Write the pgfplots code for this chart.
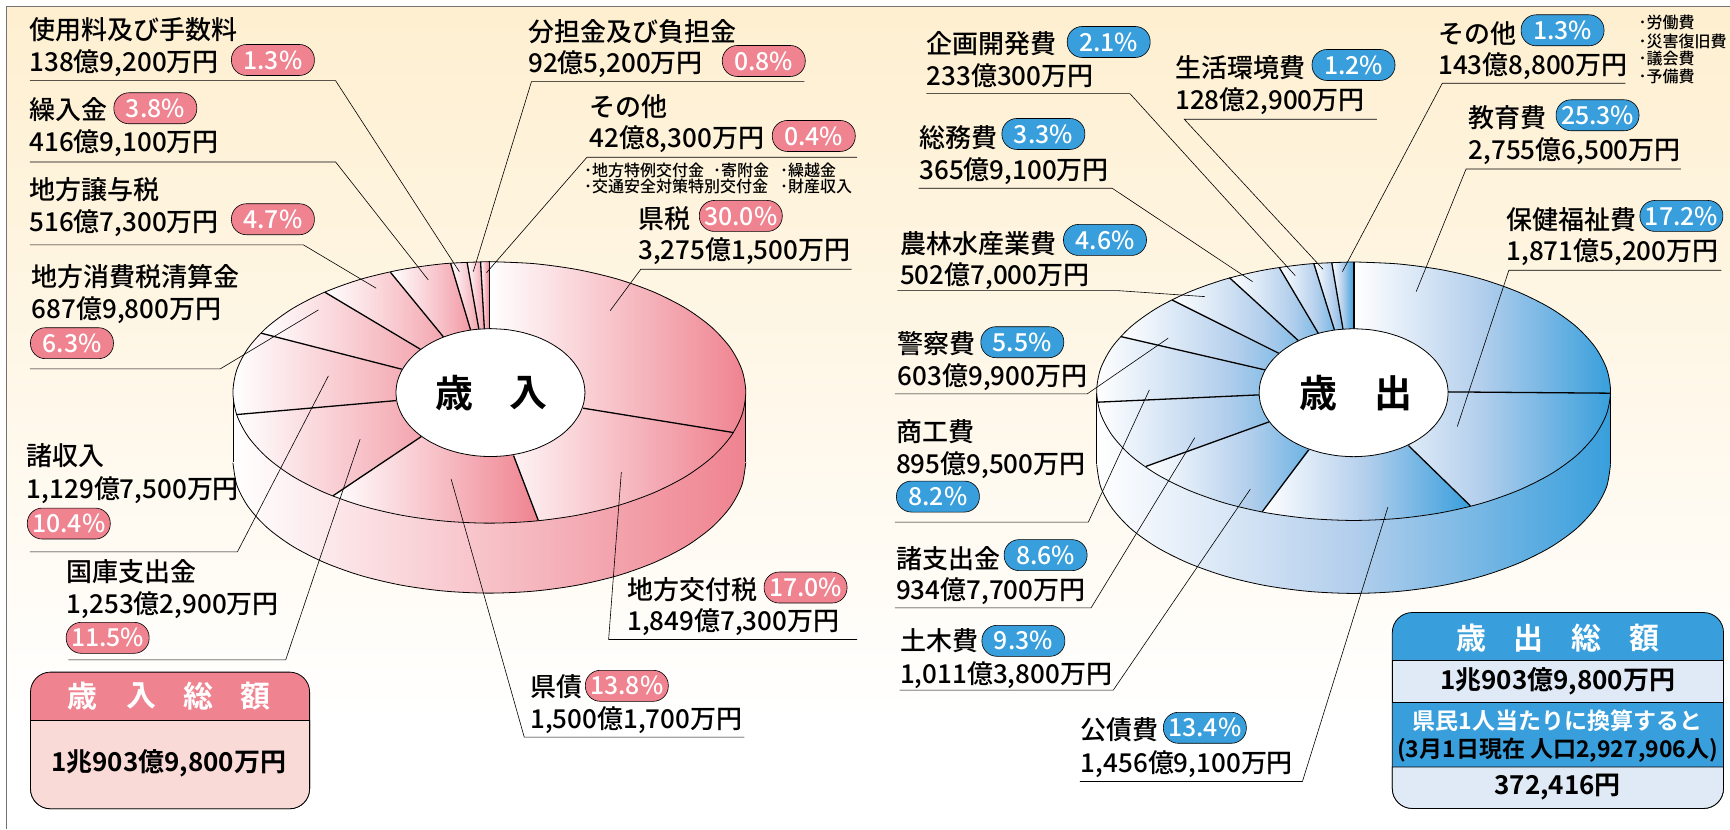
\documentclass[border=0pt]{standalone}
\usepackage{pgfplots}
\pgfplotsset{compat=1.18}
\usepackage{fontspec}
\setmainfont{Noto Sans CJK JP}[UprightFont=* Medium,BoldFont=* Bold]
\definecolor{rd}{HTML}{EF8390}
\definecolor{bl}{HTML}{389FDC}
\definecolor{blm}{HTML}{B2CEEC}
\definecolor{rdl}{HTML}{F9DAD6}
\definecolor{bll}{HTML}{E0E9F6}
\definecolor{cream}{HTML}{FEEFD0}
\tikzset{rg/.style={left color=white,right color=rd},bg/.style={left color=white,right color=bl,middle color=blm}}
\newcommand{\fs}{\fontsize{13}{15}\selectfont}
\newcommand{\fb}{\fontsize{12.4}{15}\selectfont}
\newcommand{\ft}{\fontsize{8}{9}\selectfont}
\newcommand{\lab}[3]{\node[anchor=base west,inner sep=0pt,font=\fs] at (axis cs:#1,#2) {#3};}
\newcommand{\note}[3]{\node[anchor=base west,inner sep=0pt,font=\ft] at (axis cs:#1,#2) {#3};}
\newcommand{\badge}[4]{\node[rounded corners=7.5pt,draw=black,line width=.3pt,fill=#4,text=white,minimum width=41.5pt,minimum height=15.5pt,inner sep=0pt,font=\fb] at (axis cs:#1,#2) {#3};}
\newcommand{\seg}[4]{\addplot[black,line width=.65pt] coordinates {(#1,#2)(#3,#4)};}
\newcommand{\lead}[6]{\addplot[black,line width=.3pt] coordinates {(#1,#2)(#3,#4)(#5,#6)};}
\begin{document}
\begin{tikzpicture}
\begin{axis}[scale only axis,width=865pt,height=414.5pt,xmin=0,xmax=1730,ymin=0,ymax=829,y dir=reverse,hide axis,clip=false]
% page and background
\addplot[fill=white,draw=none] coordinates {(0,0)(1730,0)(1730,829)(0,829)} --cycle;
\addplot[draw=none,top color=cream,bottom color=white] coordinates {(7,7)(1730,7)(1730,720)(7,720)} --cycle;
\addplot[black!55,line width=.5pt] coordinates {(7,829)(7,7)(1730,7)};
%%% REVENUE PIE
\addplot[smooth,draw=black,line width=.4pt,rg] coordinates {(233,462.5)(236.9,485.2)(248.5,507.2)(267.4,527.9)(293,546.6)(324.6,562.7)(361.2,575.8)(401.8,585.4)(445,591.3)(489.5,593.3)(534,591.3)(577.2,585.4)(617.8,575.8)(654.4,562.7)(686,546.6)(711.6,527.9)(730.5,507.2)(742.1,485.2)(746,462.5)};
\addplot[draw=none,rg] coordinates {(233,392.5)(746,392.5)(746,462.5)(233,462.5)} --cycle;
\addplot[black,line width=.4pt] coordinates {(233,392.5)(233,462.5)};
\addplot[black,line width=.4pt] coordinates {(746,392.5)(746,462.5)};
% top face underlay
\addplot[smooth,draw=none,rg] coordinates {(489.5,261.7)(534,263.7)(577.2,269.6)(617.8,279.2)(654.4,292.3)(686,308.4)(711.6,327.1)(730.5,347.8)(742.1,369.8)(746,392.5)(742.1,415.2)(730.5,437.2)(711.6,457.9)(686,476.6)(654.4,492.7)(617.8,505.8)(577.2,515.4)(534,521.3)(489.5,523.3)(445,521.3)(401.8,515.4)(361.2,505.8)(324.6,492.7)(293,476.6)(267.4,457.9)(248.5,437.2)(236.9,415.2)(233,392.5)(236.9,369.8)(248.5,347.8)(267.4,327.1)(293,308.4)(324.6,292.3)(361.2,279.2)(401.8,269.6)(445,263.7)(489.5,261.7)};
% slices: wedges from the pie centre
\addplot[draw=none,rg] coordinates {(489.5,392.5)(489.5,261.7)(534,263.7)(577.2,269.6)(617.8,279.2)(654.4,292.3)(686,308.4)(711.6,327.1)(730.5,347.8)(742.1,369.8)(746,392.5)(742.1,415.2)(733.8,432.7)} --cycle;
\addplot[draw=none,rg] coordinates {(489.5,392.5)(733.8,432.7)(711.6,457.9)(686,476.6)(654.4,492.7)(617.8,505.8)(577.2,515.4)(538.5,520.7)} --cycle;
\addplot[draw=none,rg] coordinates {(489.5,392.5)(538.5,520.7)(534,521.3)(489.5,523.3)(445,521.3)(401.8,515.4)(361.2,505.8)(333,496)} --cycle;
\addplot[draw=none,rg] coordinates {(489.5,392.5)(333,496)(324.6,492.7)(293,476.6)(267.4,457.9)(248.5,437.2)(236.5,414.7)} --cycle;
\addplot[draw=none,rg] coordinates {(489.5,392.5)(236.5,414.7)(233,392.5)(236.9,369.8)(248.5,347.8)(261.3,333.3)} --cycle;
\addplot[draw=none,rg] coordinates {(489.5,392.5)(261.3,333.3)(267.4,327.1)(293,308.4)(325,292.3)} --cycle;
\addplot[draw=none,rg] coordinates {(489.5,392.5)(325,292.3)(361.2,279.2)(390.5,272.3)} --cycle;
\addplot[draw=none,rg] coordinates {(489.5,392.5)(390.5,272.3)(401.8,269.6)(445,263.7)(450.7,263.2)} --cycle;
\addplot[draw=none,rg] coordinates {(489.5,392.5)(450.7,263.2)(467.2,262.2)} --cycle;
\addplot[draw=none,rg] coordinates {(489.5,392.5)(467.2,262.2)(480.7,261.8)} --cycle;
\addplot[draw=none,rg] coordinates {(489.5,392.5)(480.7,261.8)(489.5,261.7)} --cycle;
\seg{489.3}{328.7}{489.3}{261.7}
\seg{583.3}{408.3}{733.8}{432.7}
\seg{513.7}{455.7}{538.5}{520.7}
\seg{421.4}{436.7}{333}{496}
\seg{396.3}{400.7}{236.5}{414.7}
\seg{401.8}{369.3}{261.3}{333.3}
\seg{420.4}{349.3}{325}{292.3}
\seg{443.8}{337.3}{390.5}{272.3}
\seg{470.7}{330}{450.7}{263.2}
\seg{479}{329.3}{467.2}{262.2}
\seg{484.5}{329}{480.7}{261.8}
% rim and hole
\addplot[smooth,black,line width=.4pt] coordinates {(489.5,261.7)(534,263.7)(577.2,269.6)(617.8,279.2)(654.4,292.3)(686,308.4)(711.6,327.1)(730.5,347.8)(742.1,369.8)(746,392.5)(742.1,415.2)(730.5,437.2)(711.6,457.9)(686,476.6)(654.4,492.7)(617.8,505.8)(577.2,515.4)(534,521.3)(489.5,523.3)(445,521.3)(401.8,515.4)(361.2,505.8)(324.6,492.7)(293,476.6)(267.4,457.9)(248.5,437.2)(236.9,415.2)(233,392.5)(236.9,369.8)(248.5,347.8)(267.4,327.1)(293,308.4)(324.6,292.3)(361.2,279.2)(401.8,269.6)(445,263.7)(489.5,261.7)};
\addplot[smooth,draw=black,fill=white,line width=.4pt] coordinates {(490.6,328.7)(507,329.7)(522.9,332.6)(537.9,337.3)(551.3,343.7)(563,351.6)(572.4,360.7)(579.4,370.8)(583.7,381.6)(585.1,392.7)(583.7,403.8)(579.4,414.6)(572.4,424.7)(563,433.8)(551.3,441.7)(537.9,448.1)(522.9,452.8)(507,455.7)(490.6,456.7)(474.2,455.7)(458.3,452.8)(443.3,448.1)(429.9,441.7)(418.2,433.8)(408.8,424.7)(401.8,414.6)(397.5,403.8)(396.1,392.7)(397.5,381.6)(401.8,370.8)(408.8,360.7)(418.2,351.6)(429.9,343.7)(443.3,337.3)(458.3,332.6)(474.2,329.7)(490.6,328.7)};
%%% EXPENDITURE PIE
\addplot[smooth,draw=black,line width=.4pt,bg] coordinates {(1097,464.3)(1100.9,486.8)(1112.5,508.5)(1131.4,529)(1157.1,547.4)(1188.8,563.3)(1225.5,576.3)(1266.1,585.8)(1309.4,591.6)(1354,593.6)(1398.6,591.6)(1441.9,585.8)(1482.5,576.3)(1519.2,563.3)(1550.9,547.4)(1576.6,529)(1595.5,508.5)(1607.1,486.8)(1611,464.3)};
\addplot[draw=none,bg] coordinates {(1097,391.3)(1611,391.3)(1611,464.3)(1097,464.3)} --cycle;
\addplot[black,line width=.4pt] coordinates {(1097,391.3)(1097,464.3)};
\addplot[black,line width=.4pt] coordinates {(1611,391.3)(1611,464.3)};
\addplot[smooth,draw=none,bg] coordinates {(1354,262)(1398.6,264)(1441.9,269.8)(1482.5,279.3)(1519.2,292.3)(1550.9,308.2)(1576.6,326.6)(1595.5,347.1)(1607.1,368.8)(1611,391.3)(1607.1,413.8)(1595.5,435.5)(1576.6,456)(1550.9,474.4)(1519.2,490.3)(1482.5,503.3)(1441.9,512.8)(1398.6,518.6)(1354,520.6)(1309.4,518.6)(1266.1,512.8)(1225.5,503.3)(1188.8,490.3)(1157.1,474.4)(1131.4,456)(1112.5,435.5)(1100.9,413.8)(1097,391.3)(1100.9,368.8)(1112.5,347.1)(1131.4,326.6)(1157.1,308.2)(1188.8,292.3)(1225.5,279.3)(1266.1,269.8)(1309.4,264)(1354,262)};
\addplot[draw=none,bg] coordinates {(1354.5,392.5)(1354.5,262)(1398.6,264)(1441.9,269.8)(1482.5,279.3)(1519.2,292.3)(1550.9,308.2)(1576.6,326.6)(1595.5,347.1)(1607.1,368.8)(1611,391.3)(1611,393.3)} --cycle;
\addplot[draw=none,bg] coordinates {(1354.5,392.5)(1611,393.3)(1607.1,413.8)(1595.5,435.5)(1576.6,456)(1550.9,474.4)(1519.2,490.3)(1482.5,503.3)(1470.8,506)} --cycle;
\addplot[draw=none,bg] coordinates {(1354.5,392.5)(1470.8,506)(1441.9,512.8)(1398.6,518.6)(1354,520.6)(1309.4,518.6)(1266.1,512.8)(1262.5,512)} --cycle;
\addplot[draw=none,bg] coordinates {(1354.5,392.5)(1262.5,512)(1225.5,503.3)(1188.8,490.3)(1157.1,474.4)(1146.1,466.6)} --cycle;
\addplot[draw=none,bg] coordinates {(1354.5,392.5)(1146.1,466.6)(1131.4,456)(1112.5,435.5)(1100.9,413.8)(1097.9,402.3)} --cycle;
\addplot[draw=none,bg] coordinates {(1354.5,392.5)(1097.9,402.3)(1097,391.3)(1100.9,368.8)(1112.5,347.1)(1121.3,336.7)} --cycle;
\addplot[draw=none,bg] coordinates {(1354.5,392.5)(1121.3,336.7)(1131.4,326.6)(1157.1,308.2)(1172.3,300)} --cycle;
\addplot[draw=none,bg] coordinates {(1354.5,392.5)(1172.3,300)(1188.8,292.3)(1225.5,279.3)(1229.8,277.8)} --cycle;
\addplot[draw=none,bg] coordinates {(1354.5,392.5)(1229.8,277.8)(1266.1,269.8)(1279.7,267.7)} --cycle;
\addplot[draw=none,bg] coordinates {(1354.5,392.5)(1279.7,267.7)(1309.4,264)(1314.2,263.6)} --cycle;
\addplot[draw=none,bg] coordinates {(1354.5,392.5)(1314.2,263.6)(1332.1,262.5)} --cycle;
\addplot[draw=none,bg] coordinates {(1354.5,392.5)(1332.1,262.5)(1354.5,262)} --cycle;
\seg{1354.5}{328.8}{1354.5}{262}
\seg{1448.5}{392}{1611}{393.3}
\seg{1408.9}{445.7}{1470.8}{506}
\seg{1309}{450}{1262.5}{512}
\seg{1269.4}{422}{1146.1}{466.6}
\seg{1259.4}{395}{1097.9}{402.3}
\seg{1265.3}{370}{1121.3}{336.7}
\seg{1279}{353.3}{1172.3}{300}
\seg{1298.7}{340.7}{1229.8}{277.8}
\seg{1318.6}{333.3}{1279.7}{267.7}
\seg{1334.8}{330}{1314.2}{263.6}
\seg{1343.4}{329.3}{1332.1}{262.5}
\addplot[smooth,black,line width=.4pt] coordinates {(1354,262)(1398.6,264)(1441.9,269.8)(1482.5,279.3)(1519.2,292.3)(1550.9,308.2)(1576.6,326.6)(1595.5,347.1)(1607.1,368.8)(1611,391.3)(1607.1,413.8)(1595.5,435.5)(1576.6,456)(1550.9,474.4)(1519.2,490.3)(1482.5,503.3)(1441.9,512.8)(1398.6,518.6)(1354,520.6)(1309.4,518.6)(1266.1,512.8)(1225.5,503.3)(1188.8,490.3)(1157.1,474.4)(1131.4,456)(1112.5,435.5)(1100.9,413.8)(1097,391.3)(1100.9,368.8)(1112.5,347.1)(1131.4,326.6)(1157.1,308.2)(1188.8,292.3)(1225.5,279.3)(1266.1,269.8)(1309.4,264)(1354,262)};
\addplot[smooth,draw=black,fill=white,line width=.4pt] coordinates {(1354,328.8)(1370.4,329.8)(1386.3,332.7)(1401.3,337.4)(1414.7,343.8)(1426.4,351.7)(1435.8,360.8)(1442.8,370.9)(1447.1,381.7)(1448.5,392.8)(1447.1,403.9)(1442.8,414.7)(1435.8,424.8)(1426.4,433.9)(1414.7,441.8)(1401.3,448.2)(1386.3,452.9)(1370.4,455.8)(1354,456.8)(1337.6,455.8)(1321.7,452.9)(1306.7,448.2)(1293.3,441.8)(1281.6,433.9)(1272.2,424.8)(1265.2,414.7)(1260.9,403.9)(1259.5,392.8)(1260.9,381.7)(1265.2,370.9)(1272.2,360.8)(1281.6,351.7)(1293.3,343.8)(1306.7,337.4)(1321.7,332.7)(1337.6,329.8)(1354,328.8)};
%%% LEADERS, revenue
\lead{30}{80.7}{335.7}{80.7}{459.5}{271.7}
\lead{804.7}{81.7}{531.6}{81.7}{473.4}{271.7}
\lead{857.4}{157.3}{587.1}{157.3}{486.7}{272.7}
\lead{30}{162}{335.7}{162}{428.4}{280}
\lead{30}{245}{303.6}{245}{376.3}{288.3}
\lead{30}{369}{220.3}{369}{318.5}{310}
\lead{30}{552}{237.5}{552}{328.5}{376}
\lead{68.3}{660}{285.8}{660}{360.2}{439.3}
\lead{744.7}{737.3}{524.4}{737.3}{451.2}{479}
\lead{857.4}{639.7}{608.8}{639.7}{621.5}{472.3}
\lead{851.8}{269.3}{641}{269.3}{610.4}{310.7}
%%% LEADERS, expenditure
\lead{926.6}{93.7}{1130.3}{93.7}{1295.6}{275.7}
\lead{1377.2}{119.3}{1184.6}{119.3}{1323.4}{269.3}
\lead{1625.8}{83.3}{1442.7}{83.3}{1342.8}{271.7}
\lead{1681.3}{169}{1466.5}{169}{1416.6}{291.7}
\lead{1721.8}{270.3}{1509.3}{270.3}{1457.7}{426.7}
\lead{918.8}{188.3}{1112.5}{188.3}{1252.9}{281.7}
\lead{897.7}{290.7}{1118}{290.7}{1205.2}{296.7}
\lead{895}{394}{1087.5}{394}{1168.5}{338.3}
\lead{895}{522.3}{1088.6}{522.3}{1149.7}{390}
\lead{895}{608}{1091.4}{608}{1195.2}{437.7}
\lead{900}{690.3}{1113.6}{690.3}{1250.7}{489.3}
\lead{1080.3}{781.7}{1302.8}{781.7}{1388.3}{507.3}
%%% LABELS, revenue
\lab{29}{40}{使用料及び手数料}\lab{29}{71.7}{138億9,200万円}\badge{273}{60}{1.3\%}{rd}
\lab{528}{41.7}{分担金及び負担金}\lab{528}{73}{92億5,200万円}\badge{764}{61}{0.8\%}{rd}
\lab{589.3}{116.7}{その他}\lab{589.3}{148}{42億8,300万円}\badge{814}{136}{0.4\%}{rd}
\note{584}{176.7}{･地方特例交付金}\note{713}{176.7}{･寄附金}\note{780}{176.7}{･繰越金}
\note{584}{193}{･交通安全対策特別交付金}\note{780}{193}{･財産収入}
\lab{638}{228.3}{県税}\lab{638}{260}{3,275億1,500万円}\badge{741}{216}{30.0\%}{rd}
\lab{29}{119.3}{繰入金}\lab{29}{151.7}{416億9,100万円}\badge{155.4}{108.3}{3.8\%}{rd}
\lab{29}{200}{地方譲与税}\lab{29}{231.7}{516億7,300万円}\badge{273}{219.3}{4.7\%}{rd}
\lab{31.6}{286.7}{地方消費税清算金}\lab{31.6}{318.3}{687億9,800万円}\badge{72}{343.3}{6.3\%}{rd}
\lab{26.6}{466}{諸収入}\lab{26.6}{498.3}{1,129億7,500万円}\badge{68.8}{523.7}{10.4\%}{rd}
\lab{66.6}{581.7}{国庫支出金}\lab{66.6}{613.3}{1,253億2,900万円}\badge{107.7}{638}{11.5\%}{rd}
\lab{530}{696.7}{県債}\lab{530}{728.3}{1,500億1,700万円}\badge{627}{686}{13.8\%}{rd}
\lab{627}{599.3}{地方交付税}\lab{627}{631}{1,849億7,300万円}\badge{805.8}{587.7}{17.0\%}{rd}
%%% LABELS, expenditure
\lab{926.6}{53.3}{企画開発費}\lab{926.6}{86}{233億300万円}\badge{1109}{42}{2.1\%}{bl}
\lab{1175.2}{77.7}{生活環境費}\lab{1175.2}{109.3}{128億2,900万円}\badge{1353.9}{65}{1.2\%}{bl}
\lab{1438.2}{43.3}{その他}\lab{1438.2}{75}{143億8,800万円}\badge{1563}{30.3}{1.3\%}{bl}
\note{1638.6}{29}{･労働費}\note{1638.6}{47.7}{･災害復旧費}\note{1638.6}{65}{･議会費}\note{1638.6}{82.7}{･予備費}
\lab{1468.8}{127.7}{教育費}\lab{1468.8}{159.3}{2,755億6,500万円}\badge{1598}{115.3}{25.3\%}{bl}
\lab{1506.5}{229.3}{保健福祉費}\lab{1506.5}{261}{1,871億5,200万円}\badge{1681.9}{216}{17.2\%}{bl}
\lab{919.4}{147.3}{総務費}\lab{919.4}{179.3}{365億9,100万円}\badge{1043.7}{134}{3.3\%}{bl}
\lab{900}{253.3}{農林水産業費}\lab{900}{284.3}{502億7,000万円}\badge{1105.3}{240}{4.6\%}{bl}
\lab{897.7}{353.3}{警察費}\lab{897.7}{385.7}{603億9,900万円}\badge{1022.6}{342.3}{5.5\%}{bl}
\lab{896}{441.7}{商工費}\lab{896}{473.3}{895億9,500万円}\badge{938.2}{496.7}{8.2\%}{bl}
\lab{896}{568.3}{諸支出金}\lab{896}{600}{934億7,700万円}\badge{1045.9}{555.3}{8.6\%}{bl}
\lab{900}{651}{土木費}\lab{900}{683.3}{1,011億3,800万円}\badge{1023.7}{641}{9.3\%}{bl}
\lab{1080.9}{740}{公債費}\lab{1080.9}{772.3}{1,456億9,100万円}\badge{1205.2}{728}{13.4\%}{bl}
%%% PIE CENTRES
\node[font=\fontsize{19}{20}\selectfont\bfseries] at (axis cs:454.2,393.3) {歳};
\node[font=\fontsize{19}{20}\selectfont\bfseries] at (axis cs:528.9,393.3) {入};
\node[font=\fontsize{19}{20}\selectfont\bfseries] at (axis cs:1318.6,393.3) {歳};
\node[font=\fontsize{19}{20}\selectfont\bfseries] at (axis cs:1393.4,393.3) {出};
%%% LEFT BOX
\draw[line width=.4pt,fill=rd,rounded corners=10pt] (axis cs:30.5,672.3) rectangle (axis cs:309.7,809);
\draw[line width=.4pt,fill=rdl] (axis cs:30.5,720.7) [rounded corners=10pt] -- (axis cs:30.5,809) -- (axis cs:309.7,809) [sharp corners] -- (axis cs:309.7,720.7) -- cycle;
\node[text=white,font=\fontsize{15}{16}\selectfont\bfseries] at (axis cs:83,696) {歳};
\node[text=white,font=\fontsize{15}{16}\selectfont\bfseries] at (axis cs:141.5,696) {入};
\node[text=white,font=\fontsize{15}{16}\selectfont\bfseries] at (axis cs:198.7,696) {総};
\node[text=white,font=\fontsize{15}{16}\selectfont\bfseries] at (axis cs:256,696) {額};
\node[font=\fontsize{13}{15}\selectfont\bfseries] at (axis cs:168.7,763.3) {1兆903億9,800万円};
%%% RIGHT BOX
\draw[line width=.4pt,fill=bl,rounded corners=10pt] (axis cs:1392.7,612.7) rectangle (axis cs:1724,808.7);
\draw[line width=.4pt,fill=bll] (axis cs:1392.7,660.7) rectangle (axis cs:1724,702.7);
\draw[line width=.4pt,fill=bll] (axis cs:1392.7,767.3) [rounded corners=10pt] -- (axis cs:1392.7,808.7) -- (axis cs:1724,808.7) [sharp corners] -- (axis cs:1724,767.3) -- cycle;
\node[text=white,font=\fontsize{15}{16}\selectfont\bfseries] at (axis cs:1471.5,638) {歳};
\node[text=white,font=\fontsize{15}{16}\selectfont\bfseries] at (axis cs:1529,638) {出};
\node[text=white,font=\fontsize{15}{16}\selectfont\bfseries] at (axis cs:1587,638) {総};
\node[text=white,font=\fontsize{15}{16}\selectfont\bfseries] at (axis cs:1645,638) {額};
\node[font=\fontsize{13}{15}\selectfont\bfseries] at (axis cs:1558,681.7) {1兆903億9,800万円};
\node[text=white,font=\fontsize{11.5}{13}\selectfont\bfseries] at (axis cs:1558,721) {県民1人当たりに換算すると};
\node[font=\fontsize{11.5}{13}\selectfont\bfseries] at (axis cs:1558,750) {(3月1日現在 人口2,927,906人)};
\node[font=\fontsize{13}{15}\selectfont\bfseries] at (axis cs:1558,787.7) {372,416円};
\end{axis}
\end{tikzpicture}
\end{document}
